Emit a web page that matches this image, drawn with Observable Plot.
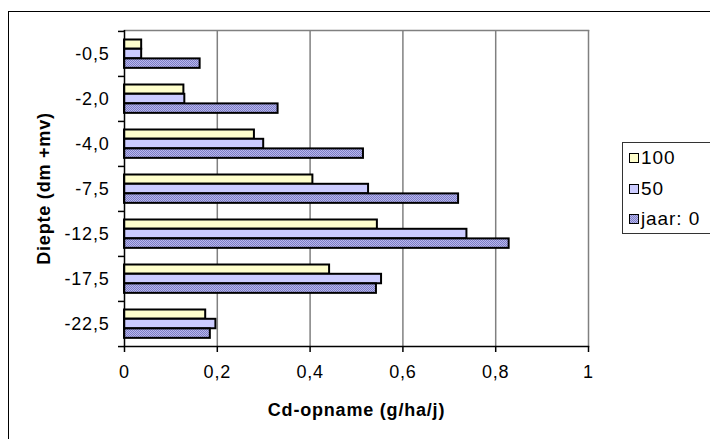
<!DOCTYPE html>
<html>
<head>
<meta charset="utf-8">
<script src="https://cdn.jsdelivr.net/npm/d3@7"></script>
<script src="https://cdn.jsdelivr.net/npm/@observablehq/plot@0.6"></script>
<style>
  html, body { margin: 0; padding: 0; background: #fff; }
  #wrap { position: relative; width: 710px; height: 439px; overflow: hidden; font-family: "Liberation Sans", Arial, sans-serif; }
  #outer { position: absolute; left: 8px; top: 11px; width: 760px; height: 480px; border: 1.5px solid #000; box-sizing: border-box; }
  #chart { position: absolute; left: 0; top: 0; }
  #chart svg text { letter-spacing: 0.8px; }
  #legend { position: absolute; left: 622px; top: 142px; width: 120px; height: 92px; border: 1px solid #333; box-sizing: border-box; background: #fff; }
  .item { position: absolute; left: 6px; height: 20px; display: flex; align-items: center; font-size: 19px; letter-spacing: 0.9px; color: #000; }
  .sw { width: 8px; height: 8px; border: 1.5px solid #000; margin-right: 2px; }
</style>
</head>
<body>
<svg width="0" height="0" style="position:absolute">
  <defs>
    <pattern id="dots" width="2" height="2" patternUnits="userSpaceOnUse">
      <rect width="2" height="2" fill="#b8b8ee"></rect>
      <rect x="0" y="0" width="1" height="1" fill="#7d7dc4"></rect>
      <rect x="1" y="1" width="1" height="1" fill="#7d7dc4"></rect>
    </pattern>
  </defs>
</svg>
<div id="wrap">
  <div id="outer"></div>
  <div id="chart"></div>
  <div id="legend"></div>
</div>
<script>
const categories = ["-0,5", "-2,0", "-4,0", "-7,5", "-12,5", "-17,5", "-22,5"];
const seriesNames = ["100", "50", "jaar: 0"];
const values100 = [0.037, 0.128, 0.280, 0.406, 0.545, 0.442, 0.175];
const values50  = [0.037, 0.130, 0.300, 0.526, 0.738, 0.554, 0.197];
const values0   = [0.163, 0.331, 0.515, 0.720, 0.829, 0.543, 0.185];
const xTicks = [0, 0.2, 0.4, 0.6, 0.8, 1];
const xTitle = "Cd-opname (g/ha/j)";
const yTitle = "Diepte (dm +mv)";

const seriesFill = ["#FFFFCC", "#CCCCFF", "url(#dots)"];
const rows = categories.map((c, i) => ({depth: c, v100: values100[i], v50: values50[i], v0: values0[i]}));

const H = 439, mT = 30, mB = 93;
const band = (H - mT - mB) / categories.length;

const barStyle = {stroke: "#000", strokeWidth: 2};
const fmt = d => String(d).replace(".", ",");

const chart = Plot.plot({
  width: 710,
  height: H,
  marginLeft: 124,
  marginRight: 122,
  marginTop: mT,
  marginBottom: mB,
  style: {fontFamily: "'Liberation Sans', Arial, sans-serif", fontSize: "18px", color: "#000", background: "transparent", overflow: "visible"},
  x: {domain: [0, 1]},
  y: {domain: categories, padding: 0},
  marks: [
    Plot.ruleX(xTicks.slice(1), {stroke: "#808080", strokeWidth: 1.5}),
    Plot.frame({anchor: "top", stroke: "#808080", strokeWidth: 1.5}),
    Plot.barX(rows, {y: "depth", x: "v100", fill: seriesFill[0], ...barStyle, insetTop: 8.5, insetBottom: band - 17.8}),
    Plot.barX(rows, {y: "depth", x: "v50", fill: seriesFill[1], ...barStyle, insetTop: 17.8, insetBottom: band - 27.4}),
    Plot.barX(rows, {y: "depth", x: "v0", fill: seriesFill[2], ...barStyle, insetTop: 27.4, insetBottom: band - 37}),
    Plot.ruleX([0], {stroke: "#000", strokeWidth: 1.5}),
    Plot.frame({anchor: "bottom", stroke: "#000", strokeWidth: 1.5}),
    Plot.axisX({ticks: xTicks, tickFormat: fmt, tickSize: 6, tickPadding: 13, label: null, strokeWidth: 1.5, fontSize: 18}),
    Plot.axisY({tickSize: 0, tickPadding: 15, label: null, fontSize: 18}),
    Plot.axisY({tickSize: 6, text: null, label: null, dy: -band / 2, strokeWidth: 1.5}),
    Plot.axisY({ticks: [categories[categories.length - 1]], tickSize: 6, text: null, label: null, dy: band / 2, strokeWidth: 1.5}),
    Plot.text([xTitle], {frameAnchor: "bottom", lineAnchor: "middle", textAnchor: "middle", dy: 64, fontWeight: "bold", fontSize: 18}),
    Plot.text([yTitle], {frameAnchor: "left", lineAnchor: "middle", textAnchor: "middle", dx: -80, rotate: -90, fontWeight: "bold", fontSize: 18})
  ]
});
document.getElementById("chart").appendChild(chart);

const legend = document.getElementById("legend");
seriesNames.forEach((name, i) => {
  const it = document.createElement("div");
  it.className = "item";
  it.style.top = (5 + i * 30.5) + "px";
  const sw = document.createElement("div");
  sw.className = "sw";
  sw.style.background = i === 2 ? "#9d9dd9" : seriesFill[i];
  if (i === 2) sw.style.backgroundImage = "repeating-conic-gradient(#7d7dc4 0% 25%, #b8b8ee 0% 50%)", sw.style.backgroundSize = "2px 2px";
  it.appendChild(sw);
  const t = document.createElement("span");
  t.textContent = name;
  it.appendChild(t);
  legend.appendChild(it);
});
</script>
</body>
</html>
